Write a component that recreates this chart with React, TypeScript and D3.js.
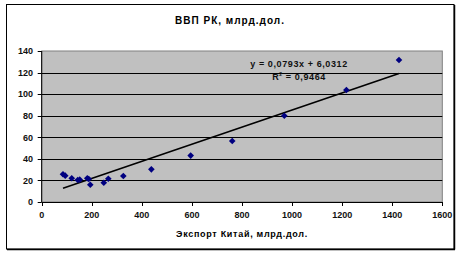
import React from "react";
import * as d3 from "d3";

const exportChina = [85, 94, 120, 144, 152, 182, 188, 194, 248, 266, 326, 438, 595, 761, 969, 1217, 1427];
const gdpKz = [25.7, 24.4, 22, 20.4, 20.7, 22, 21.3, 16, 17.9, 21.6, 24.1, 30.3, 43, 56.6, 80, 103.8, 131.7];
const xTicks = [0, 200, 400, 600, 800, 1000, 1200, 1400, 1600];
const yTicks = [0, 20, 40, 60, 80, 100, 120, 140];
const slope = 0.0793;
const intercept = 6.0312;
const title = "ВВП РК, млрд.дол.";
const xTitle = "Экспорт Китай, млрд.дол.";
const eqText = "y = 0,0793x + 6,0312";
const r2Value = "0,9464";

export default function App() {
  const W = 461, H = 256;
  const L = 41.7, R = 442.3, T = 51, B = 202;
  const x = d3.scaleLinear().domain([0, 1600]).range([L, R]);
  const y = d3.scaleLinear().domain([0, 140]).range([B, T]);
  const xMin = d3.min(exportChina)!;
  const xMax = d3.max(exportChina)!;
  const trend = d3.line<number>().x((d) => x(d)).y((d) => y(slope * d + intercept))([xMin, xMax])!;
  const font = "'Liberation Sans', Arial, sans-serif";
  const diamond = d3.symbol().type(d3.symbolDiamond2).size(28)()!;
  return (
    <svg width={W} height={H} style={{ position: "absolute", left: 0, top: 0 }} fontFamily={font}>
      <rect x={0} y={0} width={W} height={H} fill="#fff" />
      <rect x={6.5} y={4.5} width={447.5} height={244.5} fill="#fff" stroke="#000" strokeWidth={1} />
      <line x1={454.5} y1={5} x2={454.5} y2={249.5} stroke="#000" strokeWidth={1.5} />
      <line x1={7} y1={249.5} x2={455} y2={249.5} stroke="#000" strokeWidth={1.5} />
      <text x={230} y={24} textAnchor="middle" fontSize={10} fontWeight="bold" letterSpacing={1}>{title}</text>
      <rect x={L} y={T} width={R - L} height={B - T} fill="#c0c0c0" stroke="#808080" strokeWidth={1} />
      {yTicks.filter((t) => t > 0 && t < 140).map((t) => (
        <line key={t} x1={L} x2={R} y1={Math.round(y(t)) + 0.5} y2={Math.round(y(t)) + 0.5} stroke="#000" strokeWidth={1} />
      ))}
      <line x1={L} x2={L} y1={T} y2={B} stroke="#000" />
      <line x1={L} x2={R} y1={B + 0.5} y2={B + 0.5} stroke="#000" />
      {yTicks.map((t) => (
        <g key={t}>
          <line x1={L - 4} x2={L} y1={Math.round(y(t)) + 0.5} y2={Math.round(y(t)) + 0.5} stroke="#000" />
          <text x={33} y={y(t) + 3.3} textAnchor="end" fontSize={9} fontWeight="bold" fill="#111">{t}</text>
        </g>
      ))}
      {xTicks.map((t) => (
        <g key={t}>
          <line x1={Math.round(x(t)) + 0.5} x2={Math.round(x(t)) + 0.5} y1={B} y2={B + 4} stroke="#000" />
          <text x={x(t)} y={218} textAnchor="middle" fontSize={9} fontWeight="bold" fill="#111">{t}</text>
        </g>
      ))}
      <text x={242} y={237} textAnchor="middle" fontSize={9} fontWeight="bold" letterSpacing={0.7}>{xTitle}</text>
      <path d={trend} stroke="#000" strokeWidth={1.6} fill="none" />
      {exportChina.map((v, i) => (
        <path key={i} d={diamond} transform={`translate(${x(v)},${y(gdpKz[i])})`} fill="#000080" />
      ))}
      <text x={299} y={66.5} textAnchor="middle" fontSize={9} fontWeight="bold" fill="#111" letterSpacing={0.6}>{eqText}</text>
      <text x={299} y={80} textAnchor="middle" fontSize={9} fontWeight="bold" fill="#111" letterSpacing={0.6}>
        R<tspan fontSize={5} dy={-4}>2</tspan><tspan dy={4}>{" = " + r2Value}</tspan>
      </text>
    </svg>
  );
}
